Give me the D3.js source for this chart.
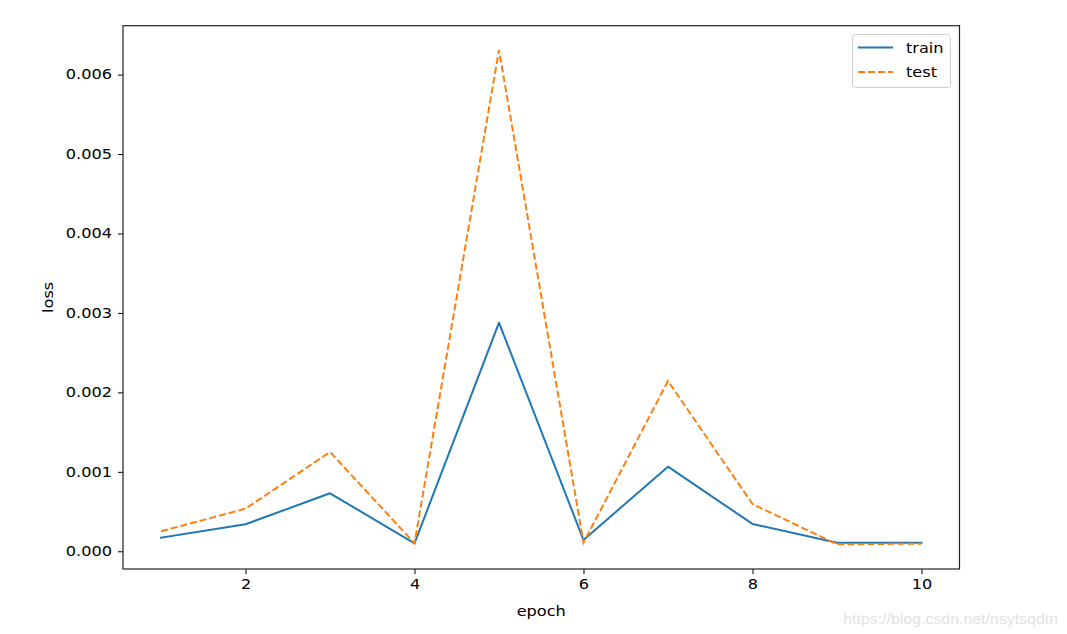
<!DOCTYPE html>
<html>
<head>
<meta charset="utf-8">
<script src="https://cdn.jsdelivr.net/npm/d3@7/dist/d3.min.js"></script>
<style>
  html, body { margin: 0; padding: 0; background: #fff; }
  svg { display: block; font-family: "DejaVu Sans", sans-serif; }
</style>
</head>
<body>
<svg id="chart" width="1067" height="634"></svg>
<script>
const epochs = [1, 2, 3, 4, 5, 6, 7, 8, 9, 10];
const trainLoss = [0.000171, 0.00034, 0.00073, 0.0001, 0.002877, 0.000142, 0.001065, 0.000344, 0.000108, 0.000108];
const testLoss = [0.000252, 0.000536, 0.00125, 0.0001, 0.00631, 0.000108, 0.002143, 0.000595, 0.000088, 0.000096];
const xTicks = [2, 4, 6, 8, 10];
const yTicks = [0, 0.001, 0.002, 0.003, 0.004, 0.005, 0.006];
const seriesNames = ["train", "test"];
const seriesColors = ["#1f77b4", "#ff7f0e"];

const svg = d3.select("#chart");
const L = 123, R = 959.5, T = 25.7, B = 569;

const x = d3.scaleLinear().domain([0.55, 10.45]).range([L, R]);
const y = d3.scaleLinear().domain([-0.000223, 0.006615]).range([B, T]);

const fontSize = 13.8;

// axes
const xAxis = d3.axisBottom(x).tickValues(xTicks).tickSize(5).tickPadding(5).tickFormat(d3.format("d"));
const yAxis = d3.axisLeft(y).tickValues(yTicks).tickSize(5).tickPadding(6).tickFormat(d3.format(".3f"));

const gx = svg.append("g").attr("transform", `translate(0,${B})`).call(xAxis);
const gy = svg.append("g").attr("transform", `translate(${L},0)`).call(yAxis);
[gx, gy].forEach(g => {
  g.select(".domain").remove();
  g.selectAll(".tick line").attr("stroke", "#000").attr("stroke-width", 1);
  g.selectAll(".tick text").attr("fill", "#000").attr("font-size", fontSize)
    .attr("font-family", "DejaVu Sans, sans-serif");
});

// lines
const line = d3.line().x((d, i) => x(epochs[i])).y(d => y(d));
svg.append("path").datum(trainLoss).attr("d", line)
  .attr("fill", "none").attr("stroke", seriesColors[0]).attr("stroke-width", 2)
  .attr("stroke-linejoin", "round").attr("stroke-linecap", "square");
svg.append("path").datum(testLoss).attr("d", line)
  .attr("fill", "none").attr("stroke", seriesColors[1]).attr("stroke-width", 2)
  .attr("stroke-dasharray", "7,3");

// frame
svg.append("rect").attr("x", L).attr("y", T).attr("width", R - L).attr("height", B - T)
  .attr("fill", "none").attr("stroke", "#222").attr("stroke-width", 1.2);

// axis labels
svg.append("text").attr("x", (L + R) / 2).attr("y", 616).attr("text-anchor", "middle")
  .attr("font-size", fontSize).text("epoch");
svg.append("text").attr("transform", `translate(53,${(T + B) / 2}) rotate(-90)`)
  .attr("text-anchor", "middle").attr("font-size", fontSize).text("loss");

// legend
const lg = svg.append("g");
lg.append("rect").attr("x", 852.5).attr("y", 34.5).attr("width", 98).attr("height", 53)
  .attr("rx", 3).attr("fill", "#fff").attr("fill-opacity", 0.8).attr("stroke", "#ccc").attr("stroke-width", 1);
seriesNames.forEach((name, i) => {
  const yy = 47.5 + i * 24.5;
  lg.append("line").attr("x1", 858).attr("x2", 893).attr("y1", yy).attr("y2", yy)
    .attr("stroke", seriesColors[i]).attr("stroke-width", 2)
    .attr("stroke-dasharray", i === 1 ? "7,3" : null);
  lg.append("text").attr("x", 906).attr("y", yy + 5).attr("font-size", fontSize).text(name);
});

// the reference text is horizontally widened; stretch glyphs accordingly
svg.selectAll("text").each(function() {
  const w = this.getComputedTextLength();
  d3.select(this).attr("textLength", w * 1.17).attr("lengthAdjust", "spacingAndGlyphs");
});

// watermark
const wm = svg.append("text").attr("x", 1058).attr("y", 624).attr("text-anchor", "end")
  .attr("font-size", 15).attr("fill", "#e2e2e2").attr("font-family", "Liberation Sans, Arial, sans-serif")
  .text("https://blog.csdn.net/nsytsqdtn");
wm.attr("textLength", wm.node().getComputedTextLength() * 1.06).attr("lengthAdjust", "spacingAndGlyphs");
</script>
</body>
</html>
